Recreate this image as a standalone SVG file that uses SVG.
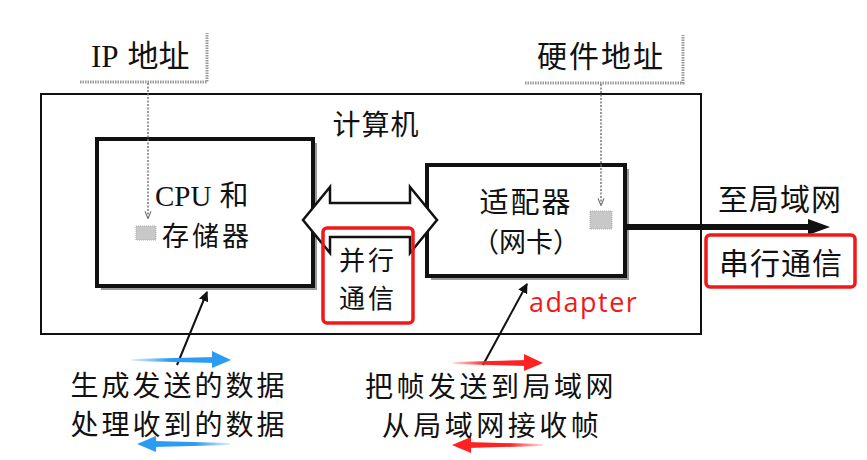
<svg xmlns="http://www.w3.org/2000/svg" width="867" height="460" viewBox="0 0 867 460">
<defs>
<style>
.cjk{font-family:"Noto Sans CJK SC","Noto Sans",sans-serif;fill:#111}
.lat{font-family:"Liberation Serif","Noto Sans CJK SC",serif;fill:#111}
.box{fill:#fff;stroke:#111;stroke-width:4}
.shadow{fill:#9a9a9a}
.lblshadow{fill:none;stroke:#9a9a9a;stroke-width:3;stroke-dasharray:1.5 1}
.dot{fill:none;stroke:#777;stroke-width:1.5;stroke-dasharray:2 1.5}
.ptr{fill:none;stroke:#111;stroke-width:2}
.red{fill:none;stroke:#f01818;stroke-width:3.5}
.stip{fill:#c8c8c8;stroke:#aaa;stroke-width:1;stroke-dasharray:1 1}
</style>
<marker id="ah" viewBox="0 0 10 10" refX="9" refY="5" markerWidth="5" markerHeight="5" orient="auto">
<path d="M0,0 L10,5 L0,10 z" fill="#111"/>
</marker>
<marker id="dah" viewBox="0 0 10 10" refX="9" refY="5" markerWidth="5" markerHeight="6" orient="auto">
<path d="M0,1 L10,5 L0,9" fill="none" stroke="#777" stroke-width="1.5"/>
</marker>
<linearGradient id="gb" x1="0" x2="1" y1="0" y2="0">
<stop offset="0" stop-color="#2b9cf2" stop-opacity="0.15"/>
<stop offset="0.45" stop-color="#2b9cf2"/>
<stop offset="1" stop-color="#2b9cf2"/>
</linearGradient>
<linearGradient id="gbl" x1="1" x2="0" y1="0" y2="0">
<stop offset="0" stop-color="#2b9cf2" stop-opacity="0.15"/>
<stop offset="0.45" stop-color="#2b9cf2"/>
<stop offset="1" stop-color="#2b9cf2"/>
</linearGradient>
<linearGradient id="gr" x1="0" x2="1" y1="0" y2="0">
<stop offset="0" stop-color="#f22" stop-opacity="0.15"/>
<stop offset="0.45" stop-color="#f22"/>
<stop offset="1" stop-color="#f22"/>
</linearGradient>
<linearGradient id="grl" x1="1" x2="0" y1="0" y2="0">
<stop offset="0" stop-color="#f22" stop-opacity="0.15"/>
<stop offset="0.45" stop-color="#f22"/>
<stop offset="1" stop-color="#f22"/>
</linearGradient>
</defs>
<rect width="867" height="460" fill="#fff"/>

<g id="computer">
<rect x="41" y="94" width="660" height="240" fill="none" stroke="#111" stroke-width="2"/>
<text class="cjk" x="376" y="135" font-size="28" letter-spacing="1" text-anchor="middle">计算机</text>
</g>

<g id="ip-label">
<path class="lblshadow" d="M80,82 H207 V33"/>
<text x="91" y="67" font-size="31"><tspan class="lat">IP</tspan><tspan class="cjk" dx="9">地址</tspan></text>
</g>

<g id="hw-label">
<path class="lblshadow" d="M525,83 H683 V35"/>
<text class="cjk" x="601" y="67" font-size="30" letter-spacing="2" text-anchor="middle">硬件地址</text>
</g>

<g id="cpu">
<rect class="shadow" x="101" y="143" width="216" height="147"/>
<rect class="box" x="97" y="139" width="216" height="147"/>
<rect class="stip" x="136" y="226" width="20" height="14"/>
<text x="155" y="206" font-size="29"><tspan class="lat">CPU</tspan><tspan class="cjk" dx="8">和</tspan></text>
<text class="cjk" x="162" y="246" font-size="27" letter-spacing="3">存储器</text>
</g>

<g id="adapter">
<rect class="shadow" x="431" y="169" width="198" height="111"/>
<rect class="box" x="427" y="165" width="198" height="111"/>
<rect class="stip" x="590" y="211" width="22" height="18"/>
<text class="cjk" x="526" y="213" font-size="29" letter-spacing="2" text-anchor="middle">适配器</text>
<text class="cjk" x="526" y="252" font-size="27" text-anchor="middle">（网卡）</text>
</g>

<g id="connectors">
<path class="dot" d="M148,83 V218" marker-end="url(#dah)"/>
<path class="dot" d="M601,84 V205" marker-end="url(#dah)"/>
<polygon points="303,220 330,187 330,203 410,203 410,187 437,220 410,253 410,237 330,237 330,253" fill="#fff" stroke="#111" stroke-width="2.5" stroke-linejoin="miter"/>
<path d="M625,227 H812" stroke="#111" stroke-width="6" fill="none"/>
<polygon points="808,219 830,227 808,235" fill="#111"/>
<path class="ptr" d="M177,365 L207,292" marker-end="url(#ah)"/>
<path class="ptr" d="M483,365 L527,284" marker-end="url(#ah)"/>
<polygon points="132,359 216,357 216,363 132,361" fill="url(#gb)"/>
<polygon points="212,351 231,360 212,368" fill="#2b9cf2"/>
<polygon points="230,443 154,441 154,447 230,445" fill="url(#gbl)"/>
<polygon points="156,436 137,444 156,452" fill="#2b9cf2"/>
<polygon points="453,362 528,360 528,366 453,364" fill="url(#gr)"/>
<polygon points="524,354 543,363 524,371" fill="#f22"/>
<polygon points="543,444 467,442 467,448 543,446" fill="url(#grl)"/>
<polygon points="471,437 452,445 471,453" fill="#f22"/>
</g>

<g id="parallel">
<rect class="red" x="323" y="228" width="90" height="95" rx="4"/>
<text class="cjk" x="368" y="270" font-size="26" letter-spacing="3" text-anchor="middle">并行</text>
<text class="cjk" x="368" y="308" font-size="26" letter-spacing="3" text-anchor="middle">通信</text>
</g>

<g id="to-lan">
<text class="cjk" x="780" y="210" font-size="30" letter-spacing="1" text-anchor="middle">至局域网</text>
</g>

<g id="serial">
<rect class="red" x="706" y="235" width="149" height="52" rx="4"/>
<text class="cjk" x="781" y="274" font-size="30" letter-spacing="1" text-anchor="middle">串行通信</text>
</g>

<g id="adapter-note">
<text x="529" y="312" font-size="27" letter-spacing="1.5" fill="#f21818" font-family="'Open Sans','Noto Sans',sans-serif">adapter</text>
</g>

<g id="cpu-tasks">
<text class="cjk" x="179" y="396" font-size="28" letter-spacing="3" text-anchor="middle">生成发送的数据</text>
<text class="cjk" x="179" y="435" font-size="28" letter-spacing="3" text-anchor="middle">处理收到的数据</text>
</g>

<g id="adapter-tasks">
<text class="cjk" x="491" y="397" font-size="28" letter-spacing="3.5" text-anchor="middle">把帧发送到局域网</text>
<text class="cjk" x="492" y="436" font-size="28" letter-spacing="3.5" text-anchor="middle">从局域网接收帧</text>
</g>
</svg>
